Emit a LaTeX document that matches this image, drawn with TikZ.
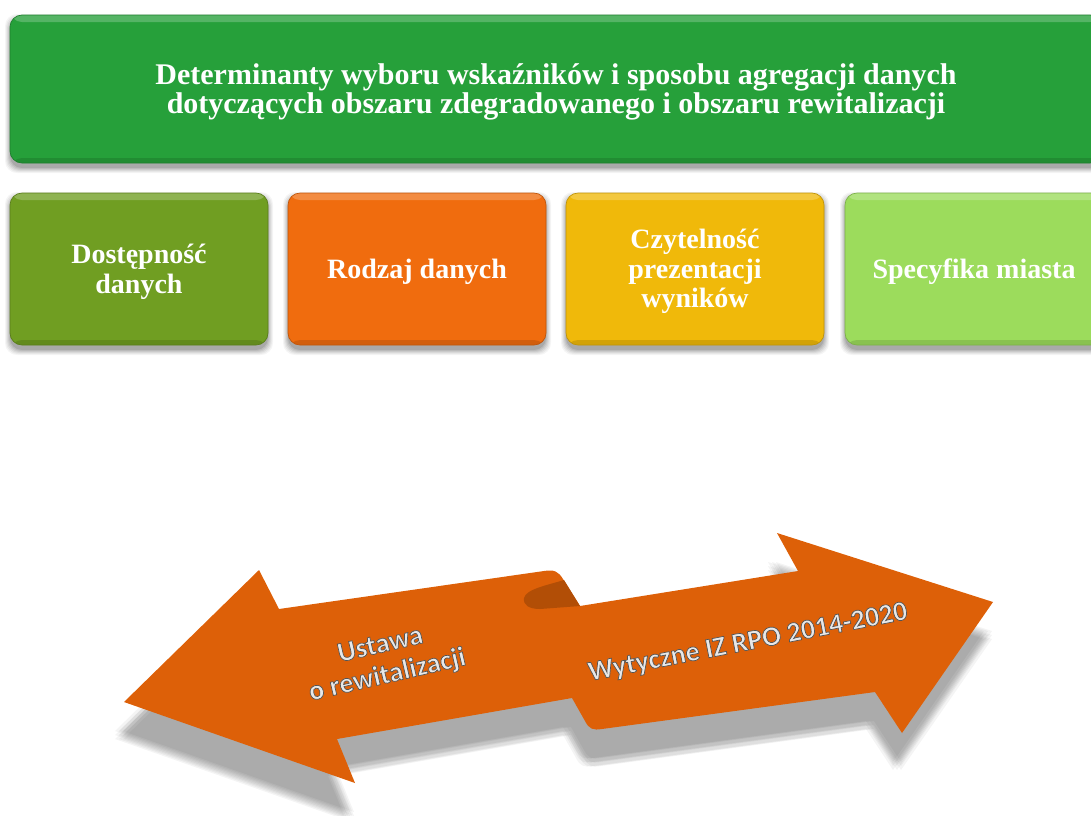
\documentclass[tikz,border=0pt]{standalone}
\usepackage{fontspec}
\setmainfont{Liberation Serif}
\newfontfamily\arrowfont{Carlito}
\definecolor{titlegreen}{RGB}{38,160,58}
\definecolor{olivebox}{RGB}{112,158,34}
\definecolor{orangebox}{RGB}{240,108,14}
\definecolor{yellowbox}{RGB}{240,185,10}
\definecolor{lightbox}{RGB}{156,220,92}
\definecolor{arroworange}{RGB}{221,96,8}
\definecolor{curldark}{RGB}{178,78,6}
\definecolor{embossfill}{RGB}{232,232,232}
\newcommand\cardfont{\bfseries\fontsize{28}{29.5}\selectfont}
\newcommand\titlefont{\bfseries\fontsize{30}{28}\selectfont}
\newcommand\lowered[1]{\raisebox{-3.5pt}[\height][\depth]{\begin{tabular}{@{}c@{}}#1\end{tabular}}}
\newcommand\embossed[1]{\special{pdf:literal direct 2 Tr 0.33 0.33 0.33 RG 0.7 w}#1\special{pdf:literal direct 0 Tr}}
\newcommand\cardshadow[4]{%
  \foreach \k/\o in {5/0.04,4/0.05,3/0.06,2/0.07,1/0.08,0/0.1}{%
    \fill[black,opacity=\o,rounded corners=12pt] (#1-\k,#2+4-\k) rectangle (#3+\k,#4+5+\k);%
  }%
}
\newcommand\ribbonpath{(124,702) -- (259,570) -- (279,609) -- (544,571) .. controls (554,569.5) and (558,571) .. (563,579) -- (580,606) -- (798,571) -- (777,533) -- (993,602) -- (902,733) -- (875,692) -- (602,729) .. controls (593,730.5) and (589,729) .. (585,721) -- (572,698) -- (337,739) -- (355,783) -- cycle}
\tikzset{
  card/.style={rectangle, rounded corners=12pt, fill=#1, draw=#1!80!black, line width=0.7pt,
    minimum width=258pt, minimum height=152pt, inner sep=0pt, text=white,
    font=\cardfont,
    path picture={
      \fill[white,opacity=0.22] (path picture bounding box.north west) rectangle ([yshift=-7pt]path picture bounding box.north east);
      \fill[black,opacity=0.12] ([yshift=5pt]path picture bounding box.south west) rectangle (path picture bounding box.south east);
    }},
  arrowtext/.style={font=\arrowfont\bfseries\fontsize{28}{31}\selectfont, align=center, inner sep=0pt, text=embossfill},
}
\begin{document}
\begin{tikzpicture}[x=1pt,y=-1pt]
\useasboundingbox (0,0) rectangle (1091,815);
\clip (0,0) rectangle (1091,815);
% shadows of the boxes
\cardshadow{10}{15}{1102}{163}
\cardshadow{10}{193}{268}{345}
\cardshadow{288}{193}{546}{345}
\cardshadow{566}{193}{824}{345}
\cardshadow{845}{193}{1103}{345}
% boxes
\node[card=titlegreen, minimum width=1092pt, minimum height=148pt, font=\titlefont] (title) at (556,89)
  {\lowered{Determinanty wyboru wskaźników i sposobu agregacji danych\\dotyczących obszaru zdegradowanego i obszaru rewitalizacji}};
\node[card=olivebox] (dost) at (139,269) {\lowered{Dostępność\\danych}};
\node[card=orangebox] (rodz) at (417,269) {\lowered{Rodzaj danych}};
\node[card=yellowbox] (czyt) at (695,269) {\lowered{Czytelność\\prezentacji\\wyników}};
\node[card=lightbox] (spec) at (974,269) {\lowered{Specyfika miasta}};
% arrow ribbon soft shadow
\foreach \dx in {-4,0,4}{
  \foreach \dy in {-4,0,4}{
    \begin{scope}[shift={(-5+\dx,33+\dy)}]
      \fill[black,opacity=0.045] \ribbonpath;
    \end{scope}
  }
}
% arrow ribbon
\fill[arroworange] \ribbonpath;
\fill[curldark] (524,598) .. controls (526,589) and (548,585) .. (564,580) -- (580,606) -- (540,609) .. controls (529,609) and (523,605) .. (524,598) -- cycle;
% arrow texts
\node[arrowtext, rotate=13] (ust) at (384,661) {\embossed{Ustawa}\\\embossed{o rewitalizacji}};
\node[arrowtext, rotate=11] (wyt) at (748,643) {\embossed{Wytyczne IZ RPO 2014-2020}};
\end{tikzpicture}
\end{document}
